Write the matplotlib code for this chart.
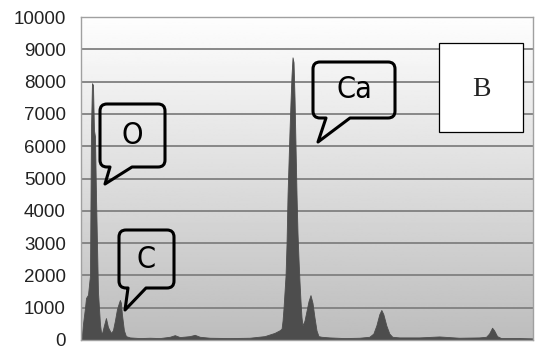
import numpy as np
import matplotlib
matplotlib.use("Agg")
import matplotlib.pyplot as plt
from matplotlib.path import Path
from matplotlib.patches import PathPatch, Rectangle
from matplotlib.transforms import Affine2D

# spectrum (channel, counts)
channel = [0, 1, 2, 4, 5, 7, 9, 10, 11, 12, 13, 14, 15, 16, 17, 18, 19, 20,
           21, 23, 25, 27, 30, 32, 34, 36, 38, 39, 40, 41, 43, 45, 49, 59,
           69, 79, 89, 94, 99, 109, 114, 119, 129, 149, 169, 184, 194, 199,
           201, 202, 203, 204, 205, 206, 207, 208, 209, 210, 211, 212, 213,
           214, 215, 216, 217, 218, 219, 220, 221, 222, 224, 226, 228, 230,
           232, 234, 236, 238, 241, 249, 264, 279, 289, 293, 296, 299, 301,
           303, 306, 309, 312, 319, 339, 359, 379, 399, 406, 409, 412, 414,
           417, 421, 439, 453]
counts = [0, 150, 500, 1000, 1300, 1400, 2000, 6500, 7950, 7900, 6500, 6300,
          4500, 3000, 1500, 1000, 500, 250, 200, 450, 680, 400, 220, 300,
          600, 950, 1150, 1240, 1150, 800, 300, 120, 80, 60, 70, 60, 100,
          150, 90, 120, 160, 100, 70, 60, 70, 120, 220, 300, 350, 600, 1000,
          1500, 2000, 3000, 4500, 5500, 6500, 7400, 8200, 8750, 8600, 7500,
          6000, 4500, 3300, 2500, 1800, 1200, 700, 450, 600, 900, 1200, 1390,
          1150, 700, 300, 120, 100, 80, 60, 70, 100, 200, 450, 800, 930, 800,
          450, 200, 100, 80, 80, 110, 70, 80, 100, 200, 380, 300, 120, 60,
          60, 50]

yticks = list(range(0, 10001, 1000))

# callouts: label, box (x0, y0, x1, y1) in pixels from top-left, tail base, tail tip
callouts = [
    ("O", (100, 104, 165, 167), (110, 132), (105, 184)),
    ("C", (119, 230, 174, 288), (128, 146), (125, 310)),
    ("Ca", (313, 62, 395, 118), (326, 350), (318, 142)),
]

W, H, DPI = 536, 349, 100
fig = plt.figure(figsize=(W / DPI, H / DPI), dpi=DPI)
fig.patch.set_facecolor("white")
ax = fig.add_axes([81 / W, 9 / H, 452 / W, 323 / H])

# grey gradient background of the plot area
grad = np.linspace(0.74, 0.995, 256).reshape(-1, 1)
ax.imshow(grad, cmap="gray", vmin=0, vmax=1, origin="lower", aspect="auto",
          extent=[0, 1, 0, 1], transform=ax.transAxes, zorder=0)

ax.set_xlim(0, 453)
ax.set_ylim(0, 10000)
ax.set_yticks(yticks)
ax.set_yticklabels([str(t) for t in yticks], fontsize=13.5,
                   family="Liberation Sans", color="#222222")
ax.set_xticks([])
ax.tick_params(axis="y", length=0, pad=11)
ax.grid(axis="y", color="#808080", linewidth=1.3, zorder=1)
ax.set_axisbelow(True)
for s in ax.spines.values():
    s.set_color("#a0a0a0")
    s.set_linewidth(1.0)

ax.fill_between(channel, counts, 0, color="#4d4d4d", linewidth=0.6,
                edgecolor="#4d4d4d", zorder=2)

# pixel (top-left origin) to display transform
pix = Affine2D().scale(1, -1).translate(0, H)


def bubble(box, base, tip, r=7):
    x0, y0, x1, y1 = box
    b0, b1 = base
    verts = [(x0 + r, y0), (x1 - r, y0), (x1, y0), (x1, y0 + r),
             (x1, y1 - r), (x1, y1), (x1 - r, y1),
             (b1, y1), tip, (b0, y1),
             (x0 + r, y1), (x0, y1), (x0, y1 - r),
             (x0, y0 + r), (x0, y0), (x0 + r, y0), (x0 + r, y0)]
    codes = [Path.MOVETO, Path.LINETO, Path.CURVE3, Path.CURVE3,
             Path.LINETO, Path.CURVE3, Path.CURVE3,
             Path.LINETO, Path.LINETO, Path.LINETO,
             Path.LINETO, Path.CURVE3, Path.CURVE3,
             Path.LINETO, Path.CURVE3, Path.CURVE3, Path.CLOSEPOLY]
    return Path(verts, codes)


for label, box, base, tip in callouts:
    patch = PathPatch(bubble(box, base, tip), facecolor="none",
                      edgecolor="black", linewidth=2.2, joinstyle="round",
                      transform=pix, zorder=5)
    fig.add_artist(patch)
    cx = (box[0] + box[2]) / 2
    cy = (box[1] + box[3]) / 2
    fig.text(cx, H - cy, label, transform=None, ha="center", va="center",
             fontsize=22, family="DejaVu Sans", fontstretch="condensed",
             color="black", zorder=6)

# panel letter box
fig.add_artist(Rectangle((439, 43), 84, 89, transform=pix, facecolor="white",
                         edgecolor="black", linewidth=0.9, zorder=5))
fig.text(481, H - 89, "B", transform=None, ha="center", va="center",
         fontsize=20, family="Liberation Serif", color="#222222", zorder=6)

fig.savefig("out.png", dpi=DPI)
